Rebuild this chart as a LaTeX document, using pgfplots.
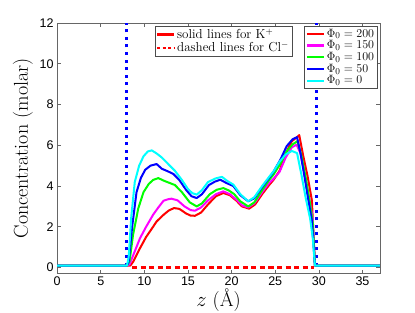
\documentclass[border=0pt]{standalone}
\usepackage{fontspec}
\usepackage{pgfplots}
\pgfplotsset{compat=1.18}
\newfontfamily\arial{Liberation Sans}
\definecolor{mred}{rgb}{1,0,0}
\definecolor{mmag}{rgb}{1,0,1}
\definecolor{mgreen}{rgb}{0,1,0}
\definecolor{mblue}{rgb}{0,0,1}
\definecolor{mcyan}{rgb}{0,1,1}
\begin{document}
\begin{tikzpicture}
\begin{axis}[
  scale only axis, width=322pt, height=250pt,
  xmin=0, xmax=37, ymin=-0.3, ymax=12,
  xtick={0,5,...,35}, ytick={0,2,...,12},
  tick align=inside, major tick length=3.5pt,
  axis line style={draw=black!60, line width=0.6pt},
  tick style={draw=black!60, line width=0.6pt},
  tick label style={font=\arial\fontsize{12.5}{12.5}\selectfont},
  /pgf/number format/assume math mode=true,
  xlabel={$z$ (Å)}, ylabel={Concentration (molar)},
  label style={font=\fontsize{20}{23}\selectfont},
  xlabel style={yshift=4pt},
  ylabel style={yshift=0pt},
  legend style={at={([xshift=-2.5pt,yshift=-2.5pt]rel axis cs:1,1)}, anchor=north east,
    font=\fontsize{13}{13}\selectfont, draw=black!70, line width=0.6pt,
    inner sep=1pt, row sep=-2pt, cells={anchor=west}},
  legend image code/.code={\draw[#1, line width=2.2pt] (0pt,0pt) -- (17pt,0pt);},
  every axis plot/.append style={line width=2pt, line join=round},
]
% blue dotted verticals
\addplot[mblue, line width=3pt, dash pattern=on 3pt off 4.5pt, forget plot] coordinates {(8.0,0.1) (8.0,12.6)};
\addplot[mblue, line width=3pt, dash pattern=on 3pt off 4.5pt, forget plot] coordinates {(29.7,0.1) (29.7,12.6)};
% red dashed Cl-
\addplot[mred, line width=2.5pt, dash pattern=on 5pt off 3.5pt, forget plot] coordinates {(8.6,0.0) (29.4,0.0)};
\addplot[mred] coordinates {
(0,0.1)(8.0,0.1)(8.4,0.1)(8.74,0.3)(9.5,0.95)(10.2,1.5)(11.0,2.0)(11.4,2.26)(12.2,2.59)(12.8,2.8)(13.4,2.92)(14.0,2.88)(14.8,2.65)(15.3,2.55)(15.8,2.54)(16.5,2.7)(17.3,3.1)(18.2,3.5)(19.05,3.66)(19.8,3.55)(20.5,3.3)(21.2,3.0)(22.0,2.89)(22.7,3.1)(23.5,3.6)(24.3,4.05)(24.8,4.3)(25.5,4.75)(26.2,5.6)(26.9,6.2)(27.5,6.4)(27.75,6.5)(28.2,5.5)(28.7,4.5)(29.2,3.3)(29.55,0.1)(37,0.1)};
\addlegendentry{$\Phi_0 = 200$}
\addplot[mmag] coordinates {
(0,0.1)(8.0,0.1)(8.3,0.15)(8.9,0.8)(9.5,1.44)(10.2,2.0)(11.0,2.59)(11.6,2.95)(12.2,3.28)(12.7,3.35)(13.1,3.38)(13.8,3.3)(14.6,3.0)(15.3,2.82)(15.8,2.79)(16.5,2.95)(17.3,3.3)(18.2,3.6)(19.05,3.74)(19.8,3.6)(20.5,3.35)(21.2,3.05)(21.9,2.95)(22.6,3.15)(23.5,3.7)(24.3,4.15)(24.8,4.35)(25.5,4.7)(26.2,5.4)(26.9,5.9)(27.45,6.03)(27.9,5.6)(28.4,4.5)(28.9,3.4)(29.3,2.4)(29.55,0.1)(37,0.1)};
\addlegendentry{$\Phi_0 = 150$}
\addplot[mgreen] coordinates {
(0,0.1)(8.0,0.1)(8.3,0.3)(8.7,1.6)(9.3,2.9)(9.9,3.7)(10.5,4.1)(11.0,4.3)(11.6,4.39)(12.3,4.25)(13.5,4.05)(14.3,3.7)(15.2,3.2)(16.0,3.0)(16.6,3.15)(17.5,3.6)(18.3,3.82)(19.05,3.9)(19.7,3.78)(20.3,3.6)(21.0,3.25)(21.9,3.0)(22.6,3.2)(23.5,3.8)(24.3,4.3)(24.8,4.56)(25.6,5.1)(26.3,5.7)(27.0,6.05)(27.55,6.2)(28.0,5.5)(28.5,4.4)(29.0,3.1)(29.3,2.2)(29.55,0.1)(37,0.1)};
\addlegendentry{$\Phi_0 = 100$}
\addplot[mblue] coordinates {
(0,0.1)(8.0,0.1)(8.2,0.3)(8.6,2.0)(9.1,3.7)(9.6,4.4)(10.1,4.8)(10.7,5.0)(11.4,5.08)(12.0,4.85)(12.7,4.72)(13.3,4.6)(14.0,4.3)(14.8,3.8)(15.4,3.5)(16.0,3.41)(16.6,3.6)(17.4,4.05)(18.1,4.22)(18.7,4.31)(19.4,4.15)(20.2,4.0)(21.0,3.55)(21.9,3.25)(22.6,3.4)(23.5,3.95)(24.3,4.4)(24.8,4.7)(25.6,5.3)(26.3,5.95)(27.0,6.3)(27.5,6.4)(27.9,5.6)(28.3,4.6)(28.8,3.3)(29.2,2.3)(29.55,0.1)(37,0.1)};
\addlegendentry{$\Phi_0 = 50$}
\addplot[mcyan] coordinates {
(0,0.1)(8.0,0.1)(8.2,0.5)(8.5,2.5)(8.9,4.2)(9.4,5.0)(9.9,5.46)(10.4,5.7)(10.85,5.75)(11.4,5.6)(12.0,5.4)(12.8,5.05)(13.5,4.75)(14.3,4.3)(15.0,3.85)(15.5,3.65)(16.0,3.58)(16.6,3.8)(17.3,4.2)(18.2,4.38)(18.9,4.45)(19.5,4.25)(20.2,4.07)(21.0,3.6)(21.9,3.25)(22.6,3.45)(23.5,4.0)(24.3,4.45)(24.8,4.72)(25.5,5.2)(26.2,5.55)(26.9,5.72)(27.5,5.62)(28.0,4.56)(28.5,3.4)(29.0,2.4)(29.3,1.44)(29.55,0.1)(37,0.1)};
\addlegendentry{$\Phi_0 = 0$}
\end{axis}
\begin{axis}[
  scale only axis, width=322pt, height=250pt,
  xmin=0, xmax=37, ymin=-0.3, ymax=12, hide axis,
  legend style={at={([xshift=-87.5pt,yshift=-2.5pt]rel axis cs:1,1)}, anchor=north east,
    font=\fontsize{13}{13}\selectfont, draw=black!70, line width=0.6pt,
    inner sep=1pt, row sep=-2pt, cells={anchor=west}},
]
\addlegendimage{mred, line width=2pt, legend image code/.code={\draw[mred, line width=2.2pt] (0pt,0pt) -- (17pt,0pt);}}
\addlegendentry{solid lines for K$^+$}
\addlegendimage{mred, line width=2pt, legend image code/.code={\draw[mred, line width=2.2pt, dash pattern=on 3pt off 2.5pt] (0pt,0pt) -- (17pt,0pt);}}
\addlegendentry{dashed lines for Cl$^-$}
\end{axis}
\pgfresetboundingbox
\path ([shift={(-57pt,-39pt)}]current axis.south west) rectangle ([shift={(35pt,23pt)}]current axis.north east);
\end{tikzpicture}
\end{document}
